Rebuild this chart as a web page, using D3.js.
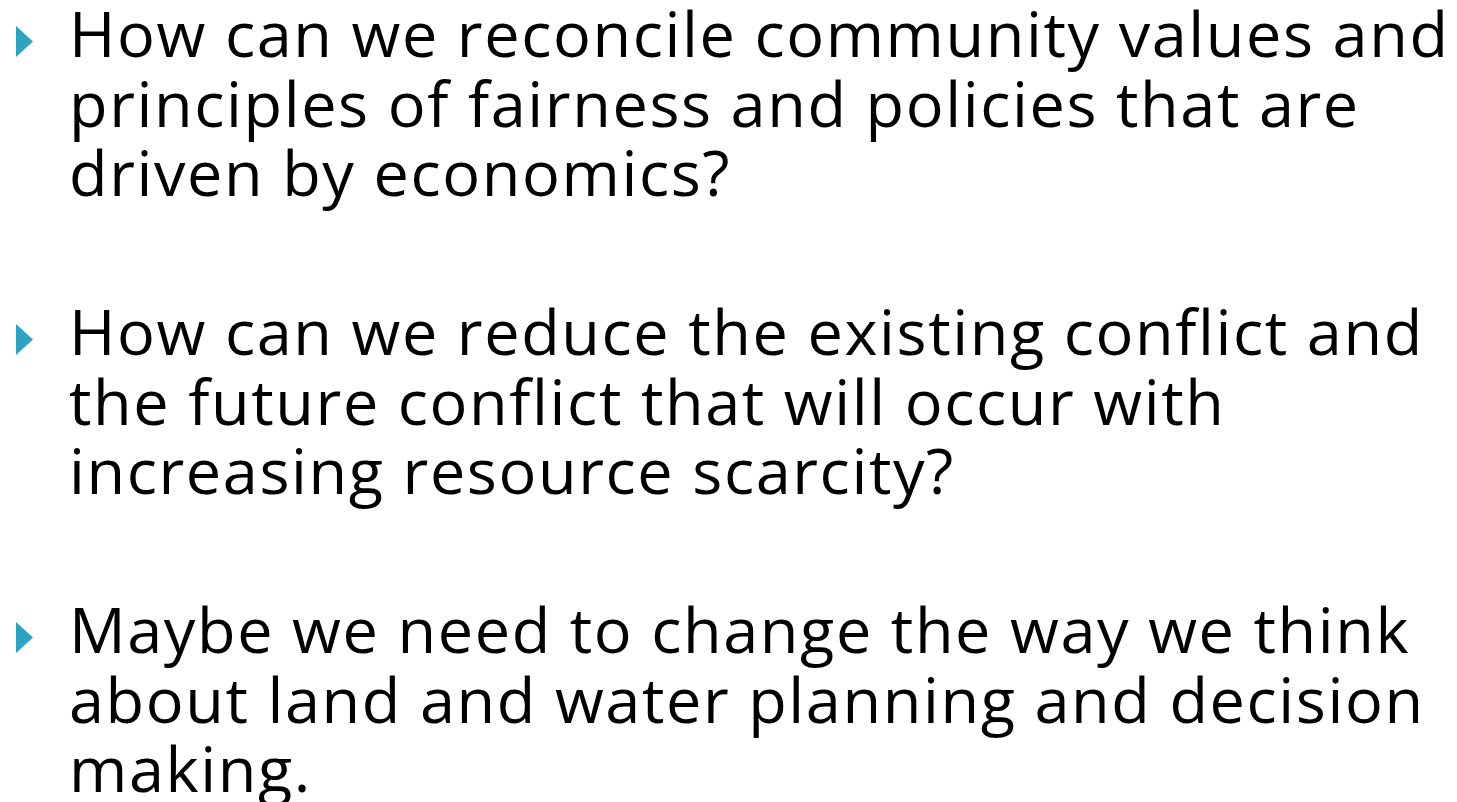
<!DOCTYPE html>
<html>
<head>
<meta charset="utf-8">
<script src="https://cdn.jsdelivr.net/npm/d3@7"></script>
<style>
    html, body { margin: 0; padding: 0; background: #ffffff; }
    #slide { width: 1457px; height: 802px; overflow: hidden; }
</style>
</head>
<body>
<div id="slide"></div>
<script>
// bullet points, one array of lines per bullet
var bulletOne = ["How can we reconcile community values and",
    "principles of fairness and policies that are",
    "driven by economics?"];
var bulletTwo = ["How can we reduce the existing conflict and",
    "the future conflict that will occur with",
    "increasing resource scarcity?"];
var bulletThree = ["Maybe we need to change the way we think",
    "about land and water planning and decision",
    "making."];
var bulletIndex = [0, 1, 2];

window.onload = function () {
    var slide = new Slides.BulletSlide([bulletOne, bulletTwo, bulletThree]);
};

var Slides;
(function (Slides) {
    var BulletSlide = (function () {
        function BulletSlide(bullets) {
            this.bullets = bullets;
            this.buildScales();
            this.initializeGraphic();
            this.drawBullets();
            this.fitText();
        }

        BulletSlide.prototype.buildScales = function () {
            // baseline of the first line of each bullet
            this.y = d3.scaleLinear().domain([0, 2]).range([57, 653]);
            this.lineStep = 69.5;
        };

        BulletSlide.prototype.initializeGraphic = function () {
            this.svg = d3.select("#slide").append("svg")
                .attr("width", BulletSlide.width)
                .attr("height", BulletSlide.height);
        };

        BulletSlide.prototype.drawBullets = function () {
            var _this = this;
            var groups = this.svg.selectAll("g.bullet").data(bulletIndex).enter().append("g")
                .attr("class", "bullet")
                .attr("transform", function (d) {
                    return "translate(0," + _this.y(d) + ")";
                });

            groups.append("path")
                .attr("d", "M16,-31 L33,-15.5 L16,0 Z")
                .attr("fill", BulletSlide.markerColor);

            groups.selectAll("text").data(function (d) {
                return _this.bullets[d];
            }).enter().append("text")
                .attr("x", BulletSlide.textLeft)
                .attr("y", function (d, i) {
                    return i * _this.lineStep;
                })
                .attr("font-family", BulletSlide.fontFamily)
                .attr("font-size", BulletSlide.fontSize)
                .attr("fill", "#000000")
                .text(function (d) {
                    return d;
                });
        };

        // spread the letters so the first line spans about the same width as in the slide
        BulletSlide.prototype.fitText = function () {
            var texts = this.svg.selectAll("text");
            var first = texts.node();
            var natural = first.getComputedTextLength();
            var chars = bulletOne[0].length;
            var spacing = (BulletSlide.firstLineWidth - natural) / (chars - 1);
            texts.attr("letter-spacing", spacing);
        };

        BulletSlide.width = 1457;
        BulletSlide.height = 802;
        BulletSlide.textLeft = 69;
        BulletSlide.firstLineWidth = 1379;
        BulletSlide.fontSize = 63;
        BulletSlide.fontFamily = "'Open Sans', sans-serif";
        BulletSlide.markerColor = "#2ca3c0";
        return BulletSlide;
    })();
    Slides.BulletSlide = BulletSlide;
})(Slides || (Slides = {}));
</script>
</body>
</html>
